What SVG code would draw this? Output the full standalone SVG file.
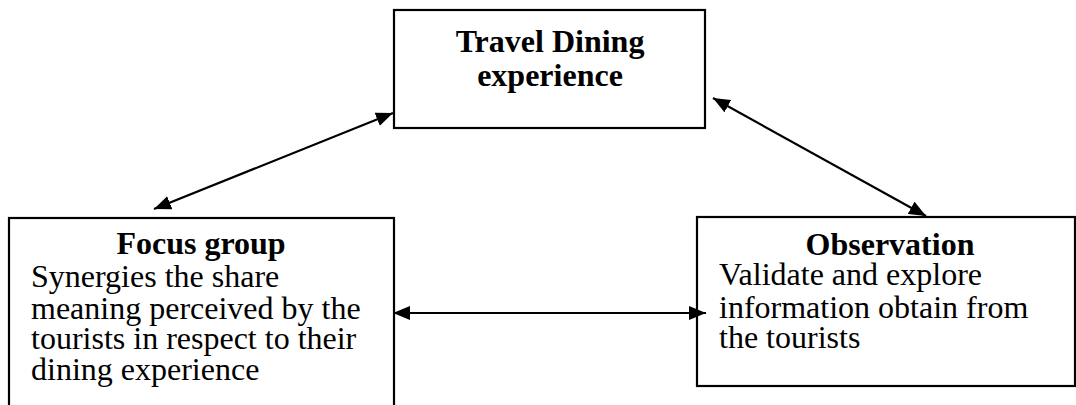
<svg xmlns="http://www.w3.org/2000/svg" width="1076" height="405" viewBox="0 0 1076 405">
  <style>
    .box { fill: #fff; stroke: #000; stroke-width: 2.2; }
    .title { font-family: "Liberation Serif", "Times New Roman", serif; font-size: 32px; font-weight: bold; fill: #000; text-anchor: middle; }
    .body { font-family: "Liberation Serif", "Times New Roman", serif; font-size: 32px; fill: #000; }
    .link { stroke: #000; stroke-width: 2.2; fill: none; marker-start: url(#head); marker-end: url(#head); }
  </style>
  <defs>
    <marker id="head" viewBox="0 0 17 14" refX="17" refY="7" markerWidth="17" markerHeight="14" markerUnits="userSpaceOnUse" orient="auto-start-reverse">
      <path d="M0,0 L17,7 L0,14 Z" fill="#000"/>
    </marker>
  </defs>
  <rect width="1076" height="405" fill="#fff"/>

  <g id="travel-dining">
    <rect class="box" x="394" y="10" width="311" height="118"/>
    <text class="title" x="550" y="52">Travel Dining</text>
    <text class="title" x="550" y="86">experience</text>
  </g>

  <g id="focus-group">
    <rect class="box" x="9" y="218" width="385" height="200"/>
    <text class="title" x="201" y="254">Focus group</text>
    <text class="body" x="31" y="287">Synergies the share</text>
    <text class="body" x="31" y="319">meaning perceived by the</text>
    <text class="body" x="31" y="349">tourists in respect to their</text>
    <text class="body" x="31" y="380">dining experience</text>
  </g>

  <g id="observation">
    <rect class="box" x="697" y="217" width="378" height="169"/>
    <text class="title" x="890" y="255">Observation</text>
    <text class="body" x="719" y="285">Validate and explore</text>
    <text class="body" x="719" y="318">information obtain from</text>
    <text class="body" x="719" y="348">the tourists</text>
  </g>

  <g id="connectors">
    <line class="link" x1="393" y1="113" x2="154" y2="209"/>
    <line class="link" x1="713" y1="98" x2="926" y2="216"/>
    <line class="link" x1="393" y1="313" x2="706" y2="313"/>
  </g>
</svg>
